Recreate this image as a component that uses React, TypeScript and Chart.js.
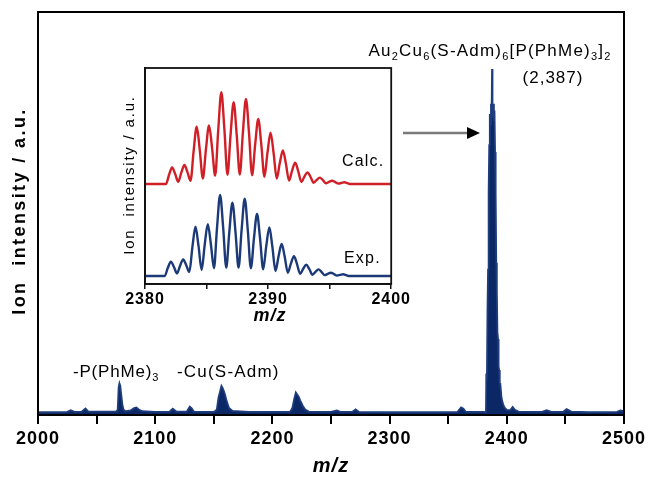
import React, { useEffect, useRef } from "react";
import { Chart, registerables } from "chart.js";
Chart.register(...registerables);

// ---------------- data ----------------
// main spectrum (m/z, intensity, % of the largest peak)
const mainMz = [
  2000, 2020, 2025, 2028, 2031, 2037, 2040.5, 2043, 2066.5, 2068, 2068.8, 2069.5, 2070.2, 2071, 2072, 2073, 2075,
  2079, 2082, 2084, 2086, 2089, 2100, 2112, 2115, 2118, 2127, 2129.5, 2131, 2133, 2150, 2152.5, 2154, 2155.5,
  2156.5, 2157.5, 2158.5, 2159.5, 2161, 2163, 2166, 2180, 2200, 2215, 2217, 2218.5, 2220, 2221, 2222.5, 2224,
  2226, 2228, 2231, 2250, 2255, 2258, 2268, 2271, 2274, 2300, 2340, 2358, 2361, 2363, 2365, 2380, 2382.2,
  2382.5, 2383.0, 2383.5, 2384.0, 2384.5, 2385.0, 2385.5, 2386.0, 2386.5, 2387.0, 2387.4, 2387.8, 2388.4,
  2389.0, 2389.5, 2390.0, 2390.5, 2391.0, 2391.5, 2392.0, 2392.5, 2393.0, 2393.5, 2394.0, 2394.5, 2395.5,
  2396.5, 2397.5, 2398.5, 2400, 2403, 2405, 2407, 2410, 2430, 2434, 2438, 2448, 2451, 2455, 2470,
  2494, 2497, 2500,
];
const mainInt = [
  0.8, 0.8, 0.9, 1.4, 0.9, 0.9, 1.9, 1.0, 1.0, 1.5, 8.0, 9.2, 8.5, 6.0, 3.0, 1.5, 1.1,
  1.3, 2.0, 2.2, 1.6, 1.1, 0.9, 0.9, 1.8, 1.0, 1.0, 2.4, 2.0, 1.0, 0.9, 1.5, 5.0, 7.0,
  8.4, 7.8, 7.0, 6.0, 4.0, 2.0, 1.2, 0.9, 0.9, 0.9, 2.0, 4.5, 6.5, 6.0, 5.2, 4.0,
  2.6, 1.6, 1.0, 0.9, 1.3, 0.9, 0.9, 1.6, 0.9, 0.8, 0.8, 0.9, 2.2, 1.8, 0.9, 0.9, 0.8,
  12, 10, 30, 42, 64, 78, 87, 84, 90, 86, 100, 86, 90,
  85, 88, 76, 64, 44, 36, 24, 22, 14, 13, 9, 9, 5,
  3.5, 2.5, 2.0, 1.5, 1.4, 2.3, 1.5, 1.0, 0.9, 1.4, 0.9, 0.9, 1.7, 1.0, 0.8,
  0.9, 1.3, 1.1,
];

// inset: calculated isotope pattern (valley, shoulder, peak, shoulder ...)
const calcMz = [
  2380, 2381.7, 2381.95, 2382.2, 2382.45, 2382.7, 2382.95, 2383.2, 2383.45, 2383.7, 2383.95, 2384.2, 2384.45,
  2384.7, 2384.95, 2385.2, 2385.45, 2385.7, 2385.95, 2386.2, 2386.45, 2386.7, 2386.95, 2387.2, 2387.45, 2387.7,
  2387.95, 2388.2, 2388.45, 2388.7, 2388.95, 2389.2, 2389.45, 2389.7, 2389.95, 2390.2, 2390.45, 2390.7, 2390.95,
  2391.2, 2391.45, 2391.7, 2391.95, 2392.2, 2392.45, 2392.7, 2392.95, 2393.2, 2393.45, 2393.7, 2393.95, 2394.2,
  2394.45, 2394.7, 2394.95, 2395.2, 2395.45, 2395.7, 2395.95, 2396.2, 2396.45, 2396.7, 2400,
];
const calcInt = [
  0, 0, 4.1, 7.5, 4.6, 1.0, 5.2, 8.6, 5.4, 1.5, 14.9, 25.9, 15.4, 2.5, 15.7, 26.5, 16.3, 3.8, 24.5, 41.5, 24.7,
  4.2, 22.2, 37.0, 22.3, 4.3, 23.1, 38.5, 23.0, 4.0, 18.0, 29.4, 17.7, 3.3, 14.2, 23.2, 13.9, 2.5, 9.5, 15.2,
  9.1, 1.6, 6.1, 9.7, 5.8, 1.0, 3.4, 5.3, 3.2, 0.6, 1.9, 2.9, 1.8, 0.4, 1.0, 1.5, 0.9, 0.2, 0.5, 0.8, 0.4, 0, 0,
];
// inset: experimental isotope pattern
const expMz = [
  2380, 2381.6, 2381.85, 2382.1, 2382.35, 2382.6, 2382.85, 2383.1, 2383.35, 2383.6, 2383.85, 2384.1, 2384.35,
  2384.6, 2384.85, 2385.1, 2385.35, 2385.6, 2385.85, 2386.1, 2386.35, 2386.6, 2386.85, 2387.1, 2387.35, 2387.6,
  2387.85, 2388.1, 2388.35, 2388.6, 2388.85, 2389.1, 2389.35, 2389.6, 2389.85, 2390.1, 2390.35, 2390.6, 2390.85,
  2391.1, 2391.35, 2391.6, 2391.85, 2392.1, 2392.35, 2392.6, 2392.85, 2393.1, 2393.35, 2393.6, 2393.85, 2394.1,
  2394.35, 2394.6, 2394.85, 2395.1, 2395.35, 2395.6, 2395.85, 2396.1, 2396.35, 2396.6, 2400,
];
const expInt = [
  0, 0, 3.6, 6.5, 4.1, 1.2, 4.7, 7.5, 4.9, 1.8, 13.1, 22.3, 13.5, 2.7, 14.1, 23.5, 14.5, 3.5, 21.8, 36.7, 21.9,
  3.8, 20.0, 33.2, 20.0, 3.8, 21.0, 35.0, 20.8, 3.5, 17.0, 28.1, 16.8, 3.0, 13.5, 22.0, 13.1, 2.3, 9.0, 14.5,
  8.7, 1.5, 5.6, 9.0, 5.4, 1.0, 3.3, 5.1, 3.1, 0.6, 1.9, 3.0, 1.8, 0.4, 1.0, 1.5, 0.9, 0.2, 0.5, 0.8, 0.4, 0, 0,
];

const mainTickLabels = [2000, 2100, 2200, 2300, 2400, 2500];
const insetTickLabels = [2380, 2390, 2400];
const CALC_OFFSET = 47.5;
const EXP_OFFSET = 5.9;

const FONT = "'Liberation Sans', Arial, Helvetica, sans-serif";

type Part = [string, boolean];

function drawRich(
  ctx: CanvasRenderingContext2D,
  parts: Part[],
  x: number,
  baseline: number,
  size: number,
  subSize: number,
  subDy: number,
  align: "left" | "center",
  spacing = "1px"
) {
  ctx.save();
  ctx.textAlign = "left";
  ctx.textBaseline = "alphabetic";
  ctx.fillStyle = "#000";
  (ctx as any).letterSpacing = spacing;
  let total = 0;
  const widths: number[] = [];
  for (const [t, sub] of parts) {
    ctx.font = `${sub ? subSize : size}px ${FONT}`;
    const w = ctx.measureText(t).width;
    widths.push(w);
    total += w;
  }
  let cx = align === "center" ? x - total / 2 : x;
  parts.forEach(([t, sub], i) => {
    ctx.font = `${sub ? subSize : size}px ${FONT}`;
    ctx.fillText(t, cx, baseline + (sub ? subDy : 0));
    cx += widths[i];
  });
  ctx.restore();
}

const spacingPlugin = {
  id: "spacing",
  beforeDraw(chart: any) {
    (chart.ctx as any).letterSpacing = "1px";
  },
  afterDraw(chart: any) {
    (chart.ctx as any).letterSpacing = "0px";
  },
};

const mainOverlay = {
  id: "mainOverlay",
  afterDraw(chart: any) {
    const ctx: CanvasRenderingContext2D = chart.ctx;
    const a = chart.chartArea;
    ctx.save();
    // frame
    ctx.strokeStyle = "#000";
    ctx.lineWidth = 2;
    ctx.strokeRect(a.left, a.top, a.right - a.left, a.bottom - a.top);

    // y title
    ctx.save();
    ctx.translate(20, 211);
    ctx.rotate(-Math.PI / 2);
    ctx.font = `bold 18px ${FONT}`;
    (ctx as any).letterSpacing = "2.4px";
    ctx.textAlign = "center";
    ctx.textBaseline = "middle";
    ctx.fillStyle = "#000";
    ctx.fillText("Ion  intensity / a.u.", 0, 0);
    ctx.restore();

    // x title
    ctx.save();
    ctx.font = `italic bold 20px ${FONT}`;
    (ctx as any).letterSpacing = "1px";
    ctx.textAlign = "center";
    ctx.textBaseline = "middle";
    ctx.fillStyle = "#000";
    ctx.fillText("m/z", 331, 466);
    ctx.restore();

    // formula
    drawRich(
      ctx,
      [
        ["Au", false], ["2", true], ["Cu", false], ["6", true], ["(S-Adm)", false], ["6", true],
        ["[P(PhMe)", false], ["3", true], ["]", false], ["2", true],
      ],
      490, 56, 17, 11, 4, "center", "1.2px"
    );
    drawRich(ctx, [["(2,387)", false]], 553, 83, 17, 11, 4, "center", "1px");
    drawRich(ctx, [["-P(PhMe)", false], ["3", true]], 73, 377, 17, 11, 4, "left", "0.8px");
    drawRich(ctx, [["-Cu(S-Adm)", false]], 177, 377, 17, 11, 4, "left", "1.2px");

    // arrow
    ctx.strokeStyle = "#7a7a7a";
    ctx.lineWidth = 2.5;
    ctx.beginPath();
    ctx.moveTo(403, 133);
    ctx.lineTo(468, 133);
    ctx.stroke();
    ctx.fillStyle = "#000";
    ctx.beginPath();
    ctx.moveTo(480, 133);
    ctx.lineTo(467, 127);
    ctx.lineTo(467, 139);
    ctx.closePath();
    ctx.fill();
    ctx.restore();
  },
};

const insetOverlay = {
  id: "insetOverlay",
  afterDraw(chart: any) {
    const ctx: CanvasRenderingContext2D = chart.ctx;
    const a = chart.chartArea;
    ctx.save();
    ctx.strokeStyle = "#111";
    ctx.lineWidth = 1.8;
    ctx.strokeRect(a.left, a.top, a.right - a.left, a.bottom - a.top);

    ctx.save();
    ctx.translate(20, 115);
    ctx.rotate(-Math.PI / 2);
    ctx.font = `15px ${FONT}`;
    (ctx as any).letterSpacing = "1.8px";
    ctx.textAlign = "center";
    ctx.textBaseline = "middle";
    ctx.fillStyle = "#000";
    ctx.fillText("Ion  intensity / a.u.", 0, 0);
    ctx.restore();

    ctx.save();
    ctx.font = `italic bold 18px ${FONT}`;
    (ctx as any).letterSpacing = "1px";
    ctx.textAlign = "center";
    ctx.textBaseline = "middle";
    ctx.fillStyle = "#000";
    ctx.fillText("m/z", 160, 256);
    ctx.restore();

    ctx.save();
    ctx.font = `16px ${FONT}`;
    (ctx as any).letterSpacing = "1.2px";
    ctx.fillStyle = "#000";
    ctx.textAlign = "left";
    ctx.textBaseline = "alphabetic";
    ctx.fillText("Calc.", 232, 106);
    ctx.fillText("Exp.", 234, 203);
    ctx.restore();
    ctx.restore();
  },
};

export default function App() {
  const mainRef = useRef<HTMLCanvasElement | null>(null);
  const insetRef = useRef<HTMLCanvasElement | null>(null);

  useEffect(() => {
    document.body.style.margin = "0";
    const tickFont = { family: FONT, size: 18, weight: "bold" as const };

    const main = new Chart(mainRef.current!, {
      type: "line",
      data: {
        datasets: [
          {
            data: mainMz.map((x, i) => ({ x, y: mainInt[i] })),
            borderColor: "#1f3d7d",
            borderWidth: 1.8,
            backgroundColor: "#0b2766",
            fill: "origin",
            pointRadius: 0,
            tension: 0,
          },
        ],
      },
      options: {
        animation: false,
        responsive: false,
        devicePixelRatio: 1,
        layout: { padding: { top: 12, right: 27, left: 0, bottom: 0 } },
        plugins: { legend: { display: false }, tooltip: { enabled: false } },
        scales: {
          x: {
            type: "linear",
            min: 2000,
            max: 2500,
            afterFit: (s: any) => {
              s.height = 65;
            },
            ticks: {
              stepSize: 50,
              autoSkip: false,
              maxRotation: 0,
              padding: 4,
              color: "#000",
              font: tickFont,
              callback: (v: any) => (mainTickLabels.includes(Number(v)) ? String(v) : ""),
            },
            grid: { drawOnChartArea: false, drawTicks: true, tickLength: 9, color: "#000", lineWidth: 2 },
            border: { display: true, color: "#000", width: 2 },
          },
          y: {
            min: 0,
            max: 116.5,
            afterFit: (s: any) => {
              s.width = 38;
            },
            ticks: { display: false },
            grid: { display: false },
            border: { display: true, color: "#000", width: 2 },
          },
        },
      },
      plugins: [spacingPlugin, mainOverlay],
    } as any);

    const inset = new Chart(insetRef.current!, {
      type: "line",
      data: {
        datasets: [
          {
            data: calcMz.map((x, i) => ({ x, y: calcInt[i] + CALC_OFFSET })),
            borderColor: "#d01f26",
            borderWidth: 2.4,
            pointRadius: 0,
            fill: false,
            cubicInterpolationMode: "monotone",
          },
          {
            data: expMz.map((x, i) => ({ x, y: expInt[i] + EXP_OFFSET })),
            borderColor: "#1c3a78",
            borderWidth: 2.4,
            pointRadius: 0,
            fill: false,
            cubicInterpolationMode: "monotone",
          },
        ],
      },
      options: {
        animation: false,
        responsive: false,
        devicePixelRatio: 1,
        layout: { padding: { top: 8, right: 18, left: 0, bottom: 0 } },
        plugins: { legend: { display: false }, tooltip: { enabled: false } },
        scales: {
          x: {
            type: "linear",
            min: 2380,
            max: 2400,
            afterFit: (s: any) => {
              s.height = 56;
            },
            ticks: {
              stepSize: 5,
              autoSkip: false,
              maxRotation: 0,
              padding: 1,
              color: "#000",
              font: { family: FONT, size: 16, weight: "bold" },
              callback: (v: any) => (insetTickLabels.includes(Number(v)) ? String(v) : ""),
            },
            grid: { drawOnChartArea: false, drawTicks: true, tickLength: 5, color: "#111", lineWidth: 1.5 },
            border: { display: true, color: "#111", width: 1.8 },
          },
          y: {
            min: 2.3,
            max: 100,
            afterFit: (s: any) => {
              s.width = 35;
            },
            ticks: { display: false },
            grid: { display: false },
            border: { display: true, color: "#111", width: 1.8 },
          },
        },
      },
      plugins: [spacingPlugin, insetOverlay],
    } as any);

    return () => {
      main.destroy();
      inset.destroy();
    };
  }, []);

  return (
    <div style={{ position: "fixed", left: 0, top: 0, width: 651, height: 480, background: "#fff" }}>
      <canvas ref={mainRef} width={651} height={480} style={{ position: "absolute", left: 0, top: 0 }} />
      <canvas ref={insetRef} width={300} height={280} style={{ position: "absolute", left: 110, top: 60 }} />
    </div>
  );
}
